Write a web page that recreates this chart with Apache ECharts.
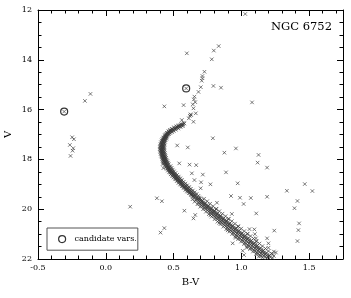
<!DOCTYPE html>
<html><head><meta charset="utf-8">
<script src="https://cdn.jsdelivr.net/npm/echarts@6/dist/echarts.min.js"></script>
<style>html,body{margin:0;padding:0;background:#fff}#c{width:351px;height:298px}</style>
</head><body><div id="c"></div>
<script>
// Tick values
const xTicks = [-0.5, 0.0, 0.5, 1.0, 1.5];
const yTicks = [12, 14, 16, 18, 20, 22];

// Subgiant branch (B-V, V)
const subgiant = [[0.580,16.56],[0.571,16.59],[0.566,16.61],[0.558,16.64],[0.551,16.62],[0.547,16.67],[0.540,16.69],[0.534,16.66],[0.529,16.72],[0.523,16.70],[0.518,16.74],[0.511,16.77],[0.506,16.75],[0.500,16.79],[0.497,16.82],[0.489,16.80],[0.486,16.85],[0.481,16.83],[0.476,16.88],[0.472,16.86],[0.469,16.91],[0.463,16.93],[0.466,16.89],[0.458,16.96],[0.455,16.94],[0.451,16.99],[0.447,17.01],[0.456,16.98],[0.443,17.04],[0.448,17.06],[0.438,17.07],[0.441,17.10],
[0.575,16.53],[0.568,16.66],[0.556,16.58],[0.552,16.70],[0.538,16.63],[0.535,16.76],[0.521,16.67],[0.517,16.81],[0.503,16.71],[0.502,16.86],[0.487,16.77],[0.489,16.90],[0.474,16.82],[0.476,16.94],[0.462,16.87],[0.466,16.99],[0.452,16.93],[0.458,17.04],[0.444,16.99],[0.450,17.09],[0.436,17.03],[0.445,17.13]];

// Turnoff region
const turnoff = [[0.434,17.09],[0.432,17.13],[0.437,17.15],[0.427,17.16],[0.430,17.19],[0.424,17.21],[0.433,17.22],[0.421,17.25],[0.427,17.27],[0.418,17.29],[0.424,17.31],[0.416,17.33],[0.429,17.34],[0.413,17.37],[0.420,17.39],[0.411,17.41],[0.418,17.43],[0.425,17.45],[0.409,17.46],[0.415,17.48],[0.421,17.50],[0.410,17.52],[0.417,17.54],[0.407,17.56],[0.423,17.57],[0.412,17.59],[0.418,17.61],[0.408,17.63],[0.415,17.65],[0.424,17.66],[0.411,17.68],[0.419,17.70],[0.413,17.72],[0.426,17.73],[0.416,17.75],[0.421,17.77],[0.414,17.79],[0.428,17.80],[0.419,17.82],[0.424,17.84],[0.417,17.86],[0.431,17.87],[0.423,17.89],[0.428,17.91],[0.420,17.93],[0.435,17.94],[0.427,17.96],[0.432,17.98],[0.425,18.00],[0.439,18.01],[0.431,18.03],[0.437,18.05],[0.429,18.07],[0.444,18.08],[0.436,18.10],[0.442,18.12],[0.434,18.14],[0.449,18.15],[0.441,18.17],[0.447,18.19],
[0.425,17.12],[0.447,17.17],[0.418,17.18],[0.441,17.23],[0.412,17.24],[0.437,17.29],[0.407,17.31],[0.434,17.36],[0.404,17.38],[0.432,17.42],[0.401,17.45],[0.431,17.49],[0.400,17.51],[0.430,17.55],[0.399,17.58],[0.431,17.61],[0.401,17.64],[0.432,17.68],[0.402,17.71],[0.435,17.74],[0.405,17.78],[0.438,17.81],[0.408,17.85],[0.441,17.88],[0.412,17.91],[0.445,17.94],[0.416,17.98],[0.449,18.01],[0.420,18.04],[0.454,18.07],[0.424,18.10],[0.459,18.13],[0.429,18.17],[0.464,18.19]];

// Upper main sequence
const upperMS = [[0.452,18.21],[0.446,18.24],[0.459,18.23],[0.455,18.27],[0.463,18.29],[0.449,18.30],[0.461,18.32],[0.470,18.33],[0.458,18.35],[0.466,18.37],[0.475,18.36],[0.462,18.40],[0.471,18.41],[0.480,18.42],[0.468,18.44],[0.476,18.46],[0.486,18.45],[0.473,18.49],[0.483,18.50],[0.492,18.49],[0.479,18.53],[0.489,18.54],[0.498,18.53],[0.486,18.57],[0.496,18.58],[0.505,18.57],[0.493,18.61],[0.503,18.62],[0.512,18.62],[0.500,18.66],[0.510,18.67],[0.519,18.66],[0.507,18.70],[0.518,18.72],[0.527,18.71],[0.514,18.75],[0.525,18.76],[0.535,18.75],[0.521,18.79],[0.533,18.80],[0.542,18.80],[0.529,18.84],[0.540,18.85],[0.550,18.84],[0.537,18.88],[0.548,18.90],[0.558,18.89],[0.545,18.93],[0.556,18.94],[0.566,18.93],[0.552,18.97],[0.564,18.99],[0.574,18.98],[0.561,19.02],[0.572,19.03],[0.583,19.02],[0.569,19.07],[0.581,19.08],[0.592,19.07],[0.577,19.11],[0.590,19.12],[0.600,19.12],[0.586,19.16],[0.598,19.17],[0.609,19.16],[0.594,19.21],[0.606,19.22],[0.618,19.21],[0.602,19.25],[0.615,19.27],[0.627,19.26],[0.611,19.30],[0.624,19.31],[0.636,19.30],[0.620,19.35],[0.633,19.36],[0.645,19.35],[0.629,19.39],[0.642,19.41],[0.654,19.40],[0.638,19.44],[0.651,19.45],[0.663,19.44],[0.647,19.48],[0.661,19.50],
[0.436,18.24],[0.478,18.27],[0.443,18.31],[0.486,18.34],[0.450,18.38],[0.494,18.41],[0.458,18.45],[0.503,18.48],[0.468,18.52],[0.514,18.55],[0.479,18.60],[0.526,18.62],[0.490,18.67],[0.538,18.69],[0.501,18.73],[0.550,18.76],[0.512,18.80],[0.562,18.83],[0.524,18.87],[0.575,18.90],[0.536,18.94],[0.588,18.97],[0.549,19.01],[0.601,19.04],[0.561,19.08],[0.615,19.11],[0.574,19.15],[0.628,19.18],[0.587,19.22],[0.642,19.25],[0.600,19.29],[0.656,19.32],[0.614,19.36],[0.670,19.39],[0.628,19.43],[0.684,19.46],[0.642,19.50]];

// Lower main sequence
const lowerMS = [[0.672,19.52],[0.656,19.55],[0.688,19.53],[0.668,19.58],[0.681,19.57],[0.697,19.56],
[0.679,19.62],[0.692,19.61],[0.664,19.64],[0.703,19.63],[0.686,19.67],[0.712,19.66],
[0.698,19.71],[0.711,19.72],[0.683,19.74],[0.722,19.73],[0.705,19.77],[0.733,19.76],[0.692,19.79],
[0.719,19.81],[0.731,19.82],[0.704,19.84],[0.745,19.83],[0.726,19.87],[0.756,19.86],[0.712,19.89],
[0.741,19.91],[0.753,19.92],[0.727,19.94],[0.768,19.93],[0.748,19.97],[0.779,19.96],[0.735,19.99],
[0.762,20.01],[0.776,20.02],[0.749,20.04],[0.790,20.03],[0.771,20.07],[0.802,20.06],[0.757,20.09],[0.815,20.00],
[0.784,20.11],[0.798,20.12],[0.770,20.14],[0.812,20.13],[0.792,20.17],[0.825,20.16],[0.779,20.19],
[0.806,20.21],[0.820,20.22],[0.791,20.24],[0.835,20.23],[0.813,20.27],[0.848,20.26],[0.799,20.29],[0.771,20.25],
[0.828,20.31],[0.842,20.32],[0.812,20.34],[0.857,20.33],[0.835,20.37],[0.870,20.36],[0.820,20.39],
[0.849,20.41],[0.864,20.42],[0.834,20.44],[0.879,20.43],[0.857,20.47],[0.893,20.46],[0.842,20.49],[0.905,20.40],
[0.871,20.51],[0.886,20.52],[0.855,20.54],[0.901,20.53],[0.879,20.57],[0.916,20.56],[0.863,20.59],[0.837,20.55],
[0.893,20.61],[0.908,20.62],[0.876,20.64],[0.923,20.63],[0.901,20.67],[0.938,20.66],[0.884,20.69],
[0.914,20.71],[0.930,20.72],[0.897,20.74],[0.946,20.73],[0.922,20.77],[0.961,20.76],[0.905,20.79],[0.978,20.70],
[0.936,20.81],[0.952,20.82],[0.918,20.84],[0.968,20.83],[0.944,20.87],[0.984,20.86],[0.926,20.89],[0.899,20.85],
[0.958,20.91],[0.975,20.92],[0.940,20.94],[0.991,20.93],[0.966,20.97],[1.006,20.96],[0.948,20.99],
[0.980,21.01],[0.997,21.02],[0.961,21.04],[1.013,21.03],[0.988,21.07],[1.029,21.06],[0.969,21.09],[1.045,21.00],
[1.003,21.11],[1.020,21.12],[0.983,21.14],[1.036,21.13],[1.010,21.17],[1.052,21.16],[0.991,21.19],[0.958,21.15],
[1.025,21.21],[1.042,21.22],[1.005,21.24],[1.058,21.23],[1.032,21.27],[1.075,21.26],[1.013,21.29],
[1.047,21.31],[1.064,21.32],[1.026,21.34],[1.081,21.33],[1.054,21.37],[1.097,21.36],[1.035,21.39],[1.110,21.30],
[1.069,21.41],[1.087,21.42],[1.048,21.44],[1.103,21.43],[1.076,21.47],[1.119,21.46],[1.057,21.49],
[1.091,21.51],[1.109,21.52],[1.070,21.54],[1.125,21.53],[1.098,21.57],[1.142,21.56],[1.079,21.59],[1.040,21.55],
[1.113,21.61],[1.131,21.62],[1.092,21.64],[1.148,21.63],[1.120,21.67],[1.164,21.66],[1.101,21.69],
[1.135,21.71],[1.153,21.72],[1.114,21.74],[1.170,21.73],[1.142,21.77],[1.186,21.76],[1.123,21.79],
[1.156,21.81],[1.175,21.82],[1.136,21.84],[1.192,21.83],[1.164,21.87],[1.208,21.86],[1.145,21.89],
[1.178,21.91],[1.196,21.92],[1.158,21.94],[1.214,21.93],[1.186,21.97],[1.230,21.96],
[0.640,19.60],[0.725,19.58],[0.655,19.70],[0.748,19.68],[0.676,19.80],[0.770,19.78],[0.697,19.90],[0.792,19.88],[0.718,20.00],[0.815,19.98],[0.739,20.10],[0.838,20.08],[0.760,20.20],[0.861,20.18],[0.781,20.30],[0.884,20.28],[0.803,20.40],[0.907,20.38],[0.824,20.50],[0.930,20.48],[0.846,20.60],[0.953,20.58],[0.867,20.70],[0.976,20.68],[0.889,20.80],[0.999,20.78],[0.911,20.90],[1.022,20.88],[0.932,21.00],[1.046,20.98],[0.954,21.10],[1.068,21.08],[0.976,21.20],[1.090,21.18],[0.998,21.30],[1.112,21.28],[1.020,21.40],[1.134,21.38],[1.042,21.50],[1.156,21.48],[1.064,21.60],[1.178,21.58],[1.086,21.70],[1.200,21.68],[1.108,21.80],[1.222,21.78],[1.130,21.90],[1.240,21.88],
[0.685,19.59],[0.707,19.69],[0.730,19.79],[0.752,19.89],[0.775,19.99],[0.797,20.09],[0.819,20.19],[0.842,20.29],[0.864,20.39],[0.886,20.49],[0.909,20.59],[0.931,20.69],[0.953,20.79],[0.975,20.89],[0.998,20.99],[1.020,21.09],[1.042,21.19],[1.064,21.29],[1.086,21.39],[1.108,21.49],[1.130,21.59],[1.152,21.69],[1.174,21.79],[1.195,21.89]];

// Red giant branch and bright stars
const giants = [[1.029,12.16],[0.833,13.45],[0.797,13.63],[0.598,13.74],[0.782,13.98],[0.728,14.48],[0.713,14.65],[0.713,14.74],[0.708,14.84],[0.701,15.10],[0.794,15.05],[0.850,15.12],[0.684,15.29],[0.654,15.48],[0.650,15.59],[0.660,15.70],[0.642,15.79],[1.079,15.71],[0.574,15.82],[0.647,15.95],[0.664,16.15],[0.625,16.19],[0.630,16.22],[0.620,16.25],[0.613,16.35],[0.647,16.49],[0.561,16.42],[0.432,15.87],[0.593,15.15]];

// Blue stragglers / horizontal branch / field
const blueStars = [[-0.113,15.37],[-0.154,15.65],[-0.307,16.08],[-0.248,17.11],[-0.235,17.19],[-0.265,17.42],[-0.240,17.55],[-0.245,17.65],[-0.260,17.86],[0.180,19.90],[0.377,19.56],[0.414,19.68],[0.404,20.94],[0.432,20.76]];

// Scattered field stars
const field = [[0.790,17.15],[0.527,17.44],[0.605,17.52],[0.960,17.56],[0.875,17.73],[1.127,17.82],[1.120,18.13],[1.190,18.33],[0.887,18.52],[0.542,18.16],[0.618,18.21],[0.667,18.23],[0.635,18.56],[0.716,18.61],[0.654,18.83],[0.703,18.92],[0.772,19.00],[0.973,18.96],[0.700,19.16],[0.924,19.47],[0.990,19.54],[1.070,19.55],[1.190,19.50],[1.017,19.79],[0.820,19.74],[0.580,20.06],[0.647,20.37],[0.660,20.23],[0.930,20.19],[1.110,20.17],[1.243,20.86],[1.190,21.17],[1.200,21.37],[1.200,21.55],[1.240,21.70],[1.255,21.74],[1.230,21.80],[1.468,18.99],[1.524,19.27],[1.336,19.26],[1.414,19.67],[1.392,19.96],[1.426,20.57],[1.421,20.84],[1.414,21.28],[1.060,20.80],[1.096,20.81],[1.100,21.00],[1.108,21.17],[0.936,21.37],[1.010,21.67],[1.020,21.84],[0.420,18.18],[0.425,18.35]];

// Candidate variables
const candidates = [[-0.307,16.08],[0.593,15.15]];

const serif = '"DejaVu Serif", "Liberation Serif", serif';
const allStars = subgiant.concat(turnoff, upperMS, lowerMS, giants, blueStars, field);

const chart = echarts.init(document.getElementById('c'), null, {renderer:'canvas'});
const axisCommon = {
  type:'value', splitLine:{show:false},
  axisLine:{show:true, onZero:false, lineStyle:{color:'#000', width:1}},
  axisTick:{show:true, inside:true, length:6, lineStyle:{color:'#000', width:1}},
  minorTick:{show:true, length:3.5, lineStyle:{color:'#000', width:1}}
};
chart.setOption({
  animation:false,
  backgroundColor:'#fff',
  title:{text:'NGC 6752', right:19, top:21, padding:0,
    textStyle:{fontFamily:serif, fontSize:11.5, fontWeight:'normal', color:'#000'}},
  grid:{left:38, right:8, top:10, bottom:39, containLabel:false, outerBoundsMode:'none'},
  legend:{left:47, top:228, selectedMode:false, itemWidth:7, itemHeight:7,
    borderColor:'#555', borderWidth:1, padding:[7,1,7,11],
    textStyle:{fontFamily:serif, fontSize:8, color:'#000', padding:[0,0,0,4]},
    data:[{name:'candidate vars.', icon:'circle', itemStyle:{color:'rgba(0,0,0,0)', borderColor:'#000', borderWidth:1.2}}]},
  xAxis:[
    Object.assign({}, axisCommon, {position:'bottom', min:xTicks[0], max:1.75, interval:0.5,
      minorTick:Object.assign({}, axisCommon.minorTick, {splitNumber:5}),
      axisLabel:{fontFamily:serif, fontSize:8, color:'#000', margin:5, showMaxLabel:false,
        formatter:v => xTicks.some(t => Math.abs(t - v) < 1e-9) ? v.toFixed(1) : ''},
      name:'B-V', nameLocation:'middle', nameGap:18, nameMoveOverlap:false,
      nameTextStyle:{fontFamily:serif, fontSize:10, color:'#000'}}),
    Object.assign({}, axisCommon, {position:'top', min:xTicks[0], max:1.75, interval:0.5,
      minorTick:Object.assign({}, axisCommon.minorTick, {splitNumber:5}),
      axisLabel:{show:false}})
  ],
  yAxis:[
    Object.assign({}, axisCommon, {position:'left', inverse:true, min:yTicks[0], max:yTicks[yTicks.length-1], interval:2,
      minorTick:Object.assign({}, axisCommon.minorTick, {splitNumber:4}),
      axisLabel:{fontFamily:serif, fontSize:8, color:'#000', margin:6},
      name:'V', nameLocation:'middle', nameGap:25, nameRotate:90, nameMoveOverlap:false,
      nameTextStyle:{fontFamily:serif, fontSize:10, color:'#000'}}),
    Object.assign({}, axisCommon, {position:'right', inverse:true, min:yTicks[0], max:yTicks[yTicks.length-1], interval:2,
      minorTick:Object.assign({}, axisCommon.minorTick, {splitNumber:4}),
      axisLabel:{show:false}})
  ],
  series:[
    {name:'stars', type:'scatter', xAxisIndex:0, yAxisIndex:0, data:allStars, silent:true,
      symbol:'path://M0,0L10,10M10,0L0,10', symbolSize:3.5,
      itemStyle:{color:'rgba(0,0,0,0)', borderColor:'#3a3a3a', borderWidth:0.85}},
    {name:'candidate vars.', type:'scatter', xAxisIndex:0, yAxisIndex:0, data:candidates, silent:true,
      symbol:'circle', symbolSize:7,
      itemStyle:{color:'rgba(0,0,0,0)', borderColor:'#000', borderWidth:1.2}}
  ]
});
</script></body></html>
